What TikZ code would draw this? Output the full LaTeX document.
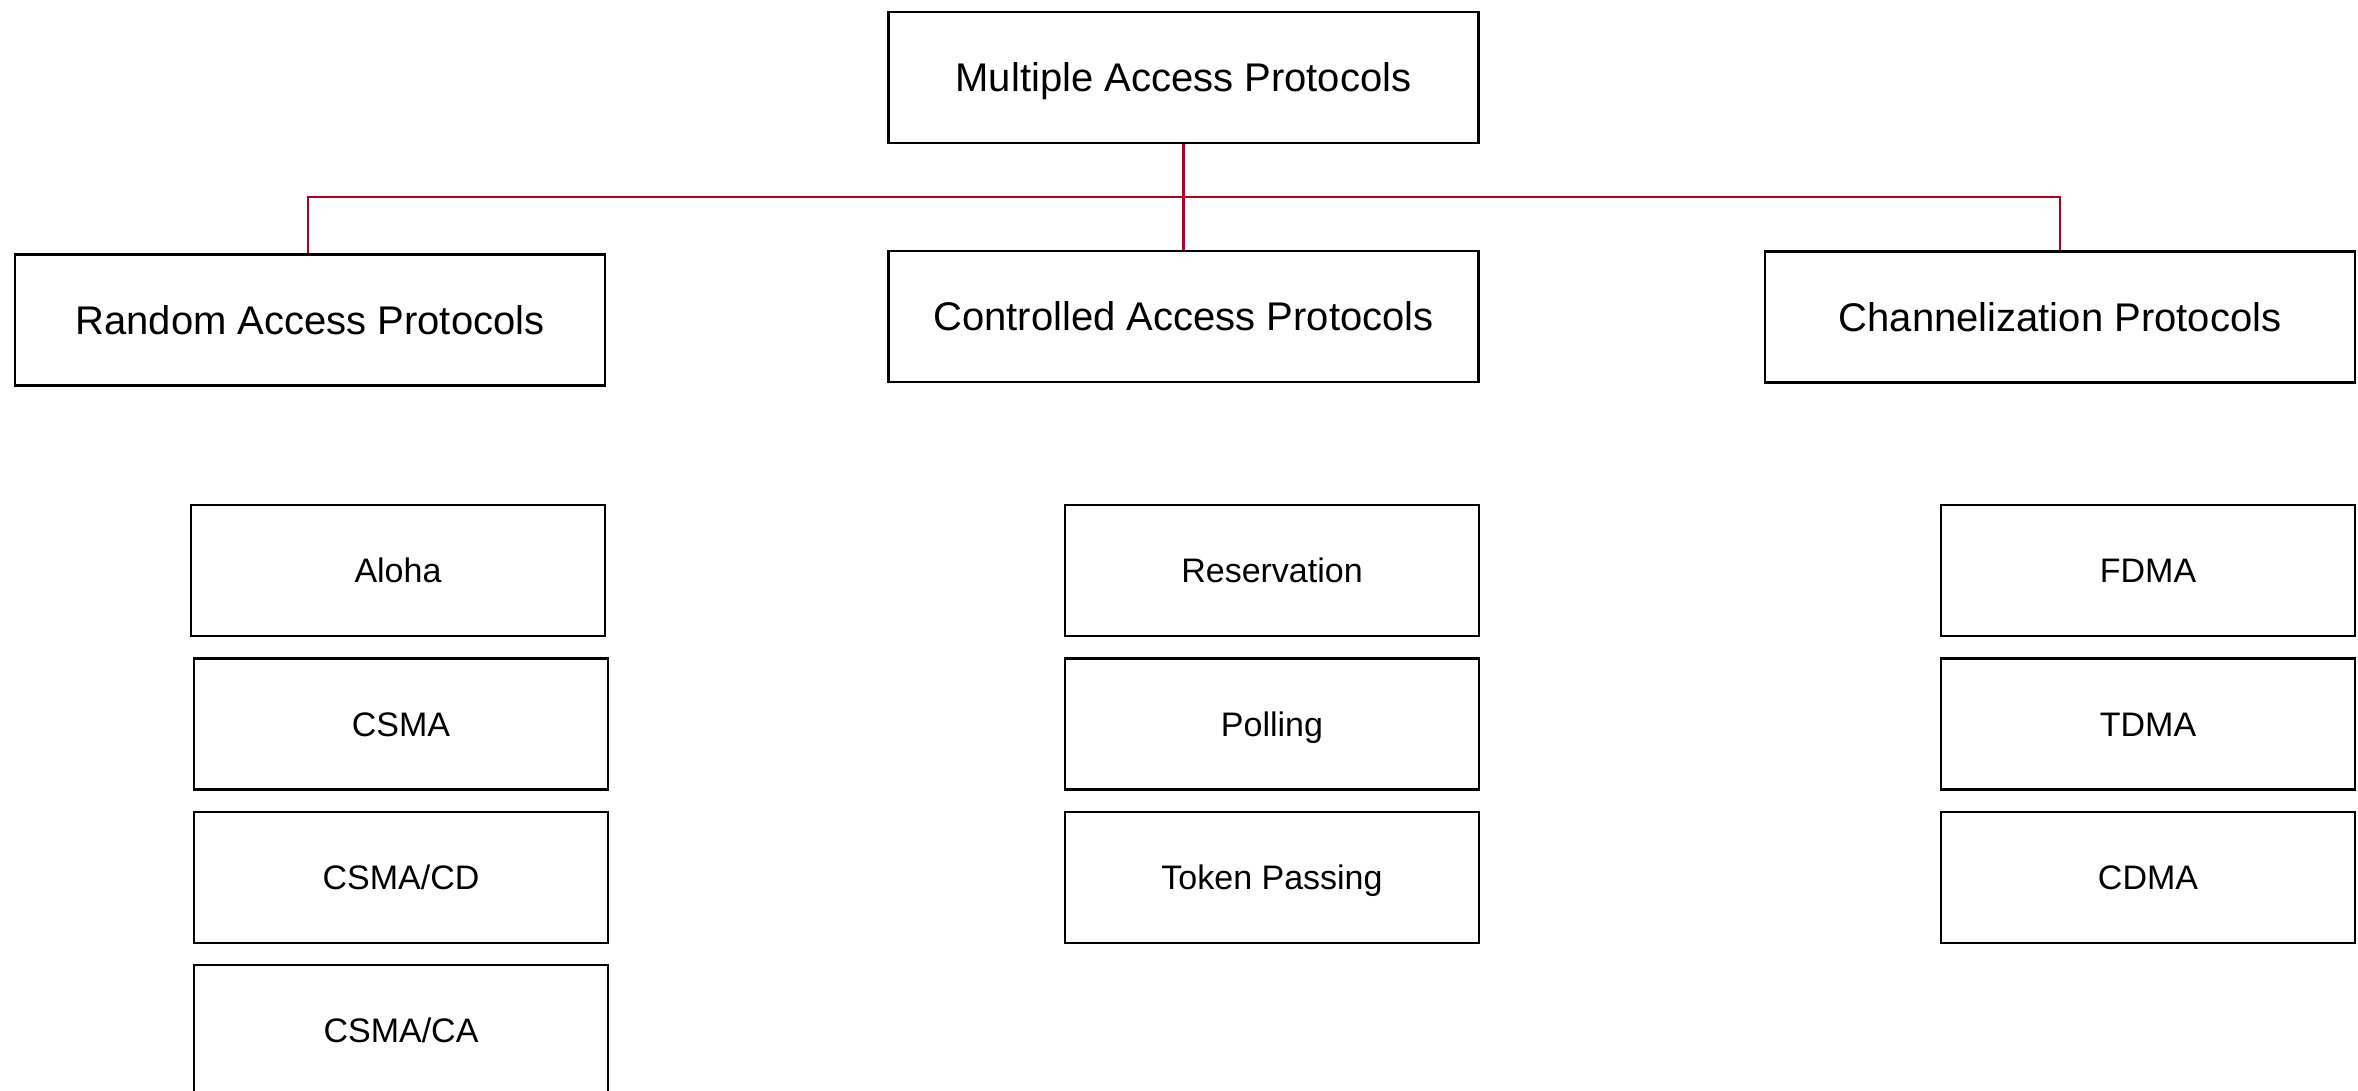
\documentclass[tikz,border=0pt]{standalone}
\usepackage{fontspec}
\setmainfont{Liberation Sans}
\definecolor{linkred}{RGB}{178,0,34}
\begin{document}
\begin{tikzpicture}[x=0.5pt,y=-0.5pt,
  bigbox/.style={draw=black,line width=1.2pt,inner sep=0pt,minimum width=295pt,minimum height=65.5pt,text height=14.3pt,text depth=0pt,font=\fontsize{20}{24}\selectfont},
  smallbox/.style={draw=black,line width=1.2pt,inner sep=0pt,minimum width=207pt,minimum height=65.5pt,text height=12.2pt,text depth=0pt,font=\fontsize{17}{20}\selectfont},
  conn/.style={draw=linkred,line width=1.1pt}]
\useasboundingbox (0,0) rectangle (2358,1091);
\clip (0,0) rectangle (2358,1091);
\fill[white] (0,0) rectangle (2358,1091);
\node[bigbox] (top) at (1183.5,77.5) {Multiple Access Protocols};
\node[bigbox] (rap) at (310,320) {Random Access Protocols};
\node[bigbox] (cap) at (1183.5,316.5) {Controlled Access Protocols};
\node[bigbox] (chp) at (2060,317) {Channelization Protocols};
\node[smallbox] (aloha) at (398,570.5) {Aloha};
\node[smallbox] (csma) at (401,724) {CSMA};
\node[smallbox] (csmacd) at (401,877.5) {CSMA/CD};
\node[smallbox] (csmaca) at (401,1030.5) {CSMA/CA};
\node[smallbox] (res) at (1272,570.5) {Reservation};
\node[smallbox] (poll) at (1272,724) {Polling};
\node[smallbox] (token) at (1272,877.5) {Token Passing};
\node[smallbox] (fdma) at (2148,570.5) {FDMA};
\node[smallbox] (tdma) at (2148,724) {TDMA};
\node[smallbox] (cdma) at (2148,877.5) {CDMA};
\coordinate (bus) at (0,197);
\draw[conn] (top.south) -- (cap.north);
\draw[conn] ([xshift=-1pt]rap.north) -- ([xshift=-1pt]rap.north |- bus) -- (chp.north |- bus) -- (chp.north);
\end{tikzpicture}
\end{document}
